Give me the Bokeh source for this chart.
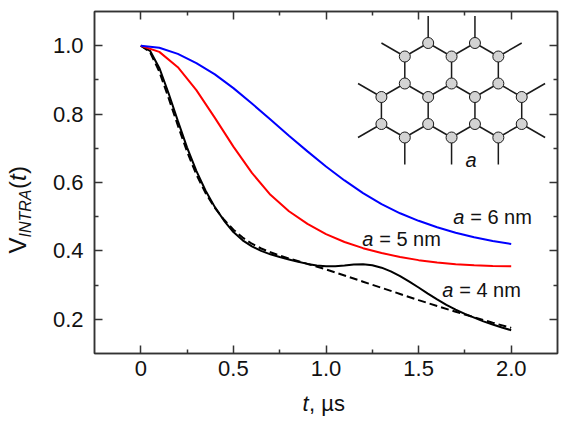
import math
from bokeh.plotting import figure
from bokeh.models import Label, LinearAxis, FixedTicker, ColumnDataSource
from bokeh.embed import file_html
from bokeh.resources import INLINE

# ---------------- data ----------------
t_a6 = [0, 0.1, 0.2, 0.3, 0.4, 0.5, 0.6, 0.7, 0.8, 0.9, 1.0, 1.1, 1.2, 1.3, 1.4, 1.5, 1.6, 1.7, 1.8, 1.9, 2.0]
v_a6 = [1.0, 0.994, 0.976, 0.949, 0.916, 0.876, 0.831, 0.784, 0.737, 0.691, 0.647, 0.606, 0.569, 0.537,
        0.510, 0.488, 0.469, 0.453, 0.440, 0.429, 0.420]

t_a5 = [0, 0.1, 0.2, 0.3, 0.4, 0.5, 0.6, 0.7, 0.8, 0.9, 1.0, 1.1, 1.2, 1.3, 1.4, 1.5, 1.6, 1.7, 1.8, 1.9, 2.0]
v_a5 = [1.0, 0.982, 0.937, 0.870, 0.789, 0.705, 0.628, 0.564, 0.516, 0.479, 0.449, 0.426, 0.408, 0.394,
        0.382, 0.373, 0.366, 0.361, 0.358, 0.356, 0.355]

t_a4 = [0, 0.05, 0.1, 0.15, 0.2, 0.25, 0.3, 0.35, 0.4, 0.45, 0.5, 0.55, 0.6, 0.65, 0.7, 0.75, 0.8, 0.85,
        0.9, 0.95, 1.0, 1.05, 1.1, 1.15, 1.2, 1.25, 1.3, 1.35, 1.4, 1.45, 1.5, 1.55, 1.6, 1.65, 1.7, 1.75,
        1.8, 1.85, 1.9, 1.95, 2.0]
v_a4 = [1.0, 0.985, 0.935, 0.861, 0.780, 0.702, 0.634, 0.576, 0.528, 0.488, 0.455, 0.431, 0.413, 0.400,
        0.390, 0.382, 0.375, 0.368, 0.362, 0.357, 0.355, 0.355, 0.357, 0.360, 0.361, 0.358, 0.351, 0.340,
        0.326, 0.310, 0.293, 0.275, 0.258, 0.242, 0.228, 0.216, 0.205, 0.194, 0.185, 0.176, 0.168]

t_a4_dash = [0, 0.05, 0.1, 0.15, 0.2, 0.25, 0.3, 0.35, 0.4, 0.45, 0.5, 0.55, 0.6, 0.65, 0.7, 0.75, 0.8,
             0.9, 1.0, 1.1, 1.2, 1.3, 1.4, 1.5, 1.6, 1.7, 1.8, 1.9, 2.0]
v_a4_dash = [1.0, 0.981, 0.924, 0.847, 0.767, 0.690, 0.623, 0.569, 0.526, 0.491, 0.462, 0.439, 0.421, 0.407,
             0.396, 0.386, 0.378, 0.362, 0.346, 0.328, 0.310, 0.292, 0.274, 0.256, 0.239, 0.222, 0.206,
             0.190, 0.175]

x_ticks = [0, 0.5, 1.0, 1.5, 2.0]
x_tick_labels = ["0", "0.5", "1.0", "1.5", "2.0"]
x_minor = [0.25, 0.75, 1.25, 1.75]
y_ticks = [0.2, 0.4, 0.6, 0.8, 1.0]
y_tick_labels = ["0.2", "0.4", "0.6", "0.8", "1.0"]
y_minor = [0.3, 0.5, 0.7, 0.9]

series_labels = ["6 nm", "5 nm", "4 nm"]

# ---------------- figure ----------------
XMIN, XMAX, YMIN, YMAX = -0.25, 2.25, 0.1, 1.1
FW, FH = 463, 342
FL, FT = 94, 11          # wanted frame left/top in the picture
LEFT_PANEL = 240         # room for the axis and the outside texts; the extra is shifted off-page
SHIFT = LEFT_PANEL - FL

p = figure(frame_width=FW, frame_height=FH, x_range=(XMIN, XMAX), y_range=(YMIN, YMAX),
           output_backend="svg", toolbar_location=None,
           min_border_left=LEFT_PANEL, min_border_right=8, min_border_top=FT, min_border_bottom=67)
p.margin = (0, 0, 0, -SHIFT)
p.xgrid.visible = False
p.ygrid.visible = False
p.background_fill_color = "white"
p.border_fill_color = "white"
p.outline_line_color = "#333333"
p.outline_line_width = 1.5

FONT = "Liberation Sans"
AX = "#333333"

def px_to_x(px):
    return XMIN + (px - FL) * (XMAX - XMIN) / FW

def py_to_y(py):
    return YMAX - (py - FT) * (YMAX - YMIN) / FH

def style_axis(ax, ticks, minor, labels, show_labels, standoff):
    ax.ticker = FixedTicker(ticks=ticks, minor_ticks=minor)
    ax.major_label_overrides = {float(k): s for k, s in zip(ticks, labels)}
    ax.major_tick_in = 8
    ax.major_tick_out = 0
    ax.minor_tick_in = 4
    ax.minor_tick_out = 0
    ax.major_tick_line_color = AX
    ax.minor_tick_line_color = AX
    ax.major_tick_line_width = 1.5
    ax.minor_tick_line_width = 1.5
    ax.axis_line_color = AX
    ax.axis_line_width = 1.5
    if show_labels:
        ax.major_label_text_font = FONT
        ax.major_label_text_font_size = "22px"
        ax.major_label_text_color = "#111111"
        ax.major_label_standoff = standoff
    else:
        ax.major_label_text_font_size = "0px"
        ax.major_label_text_alpha = 0
        ax.major_label_standoff = 0

style_axis(p.xaxis[0], x_ticks, x_minor, x_tick_labels, True, 7)
style_axis(p.yaxis[0], y_ticks, y_minor, y_tick_labels, True, 11)
top = LinearAxis()
right = LinearAxis()
style_axis(top, x_ticks, x_minor, x_tick_labels, False, 0)
style_axis(right, y_ticks, y_minor, y_tick_labels, False, 0)
p.add_layout(top, "above")
p.add_layout(right, "right")

# ---------------- curves ----------------
p.line(t_a4_dash, v_a4_dash, line_color="black", line_width=2, line_dash="8 4")
p.line(t_a4, v_a4, line_color="black", line_width=2)
p.line(t_a5, v_a5, line_color="#ff0000", line_width=2)
p.line(t_a6, v_a6, line_color="#0000ff", line_width=2)

# ---------------- honeycomb inset ----------------
b = 27.0
s3 = math.sqrt(3)
cx0, cy0 = 404.3, 110.0
centers = [(cx0 + k * s3 * b, cy0) for k in range(3)] + \
          [(cx0 + s3 * b / 2 + k * s3 * b, cy0 - 1.5 * b) for k in range(2)]
nodes = {}
edges = set()
for (cx, cy) in centers:
    verts = []
    for ang in [90, 30, -30, -90, -150, 150]:
        r = math.radians(ang)
        vx, vy = cx + b * math.cos(r), cy - b * math.sin(r)
        key = (round(vx, 1), round(vy, 1))
        nodes[key] = (vx, vy)
        verts.append(key)
    for i in range(6):
        e = tuple(sorted([verts[i], verts[(i + 1) % 6]]))
        edges.add(e)
nbrs = {k: [] for k in nodes}
for a_, b_ in edges:
    nbrs[a_].append(b_)
    nbrs[b_].append(a_)
seg = {"x0": [], "y0": [], "x1": [], "y1": []}
for a_, b_ in edges:
    (x0, y0), (x1, y1) = nodes[a_], nodes[b_]
    seg["x0"].append(px_to_x(x0)); seg["y0"].append(py_to_y(y0))
    seg["x1"].append(px_to_x(x1)); seg["y1"].append(py_to_y(y1))
for k, nb in nbrs.items():
    if len(nb) == 2:
        x, y = nodes[k]
        ux = sum((nodes[n][0] - x) / b for n in nb)
        uy = sum((nodes[n][1] - y) / b for n in nb)
        sx, sy = x - ux * b, y - uy * b
        seg["x0"].append(px_to_x(x)); seg["y0"].append(py_to_y(y))
        seg["x1"].append(px_to_x(sx)); seg["y1"].append(py_to_y(sy))
p.segment("x0", "y0", "x1", "y1", source=ColumnDataSource(seg), line_color="#1a1a1a", line_width=1.5)
p.scatter([px_to_x(v[0]) for v in nodes.values()], [py_to_y(v[1]) for v in nodes.values()],
          size=11, fill_color="#d3d3d3", line_color="#1a1a1a", line_width=1)

# text anchored at the bottom of its box (baseline + descent)
def lab(x, y, text, size="20px", style="normal", place="center", **kw):
    p.add_layout(Label(x=x, y=y, text=text, text_font=FONT, text_font_size=size,
                       text_font_style=style, text_color="#111111",
                       text_baseline="bottom", text_align="left", **kw), place)

lab(px_to_x(465), py_to_y(170), "a", style="italic")

# curve labels: italic "a" then "= N nm"
for (lx, ly), s in zip([(452.7, 227), (361.7, 249), (441.7, 300.5)], series_labels):
    lab(px_to_x(lx), py_to_y(ly), "a", style="italic")
    lab(px_to_x(lx), py_to_y(ly), "= " + s, x_offset=17)

# x axis label (drawn from the left side panel, so it is not clipped to the frame)
lab(px_to_x(302), py_to_y(415), "t", size="22px", style="italic", place="left")
lab(px_to_x(308.5), py_to_y(415), ", \u00b5s", size="22px", place="left")

# y axis label (rotated)
bx = px_to_x(30)
y0 = 253.0
dpy = (YMAX - YMIN) / FH
lab(bx, py_to_y(y0), "V", size="24px", angle=math.pi / 2, place="left")
lab(px_to_x(33), py_to_y(y0) + 16 * dpy, "INTRA", size="16px", style="italic", angle=math.pi / 2, place="left")
lab(bx, py_to_y(y0) + 64.5 * dpy, "(", size="24px", angle=math.pi / 2, place="left")
lab(bx, py_to_y(y0) + 72.5 * dpy, "t", size="24px", style="italic", angle=math.pi / 2, place="left")
lab(bx, py_to_y(y0) + 79.5 * dpy, ")", size="24px", angle=math.pi / 2, place="left")

open("out.html", "w").write(file_html(p, INLINE))
